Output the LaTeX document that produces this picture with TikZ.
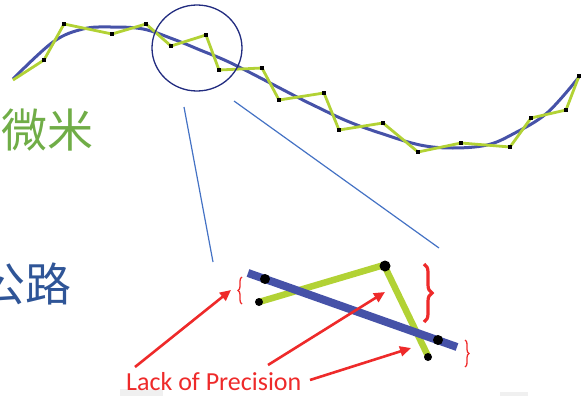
\documentclass[tikz,border=0pt]{standalone}
\usepackage{fontspec}
\setmainfont{Carlito}
\newfontfamily\cjk{Noto Sans CJK SC}
\usetikzlibrary{arrows.meta,decorations.pathreplacing,shapes.geometric}
\definecolor{curveblue}{HTML}{4652A8}
\definecolor{polygreen}{HTML}{B2D235}
\definecolor{circnavy}{HTML}{222C80}
\definecolor{lineblue}{HTML}{4472C4}
\definecolor{arrred}{HTML}{EE2A2A}
\definecolor{cjkgreen}{HTML}{70AD47}
\definecolor{cjkblue}{HTML}{2F5597}
\begin{document}
\begin{tikzpicture}[x=1pt,y=-1pt,
  sq/.style={fill=black,minimum size=4pt,inner sep=0pt},
  bigdot/.style={fill=black,circle,minimum size=8pt,inner sep=0pt},
  redarrow/.style={draw=arrred,line width=2.6pt,-{Triangle[length=11pt,width=10pt]}},
  redbrace/.style={draw=arrred,decorate,decoration={brace,amplitude=#1}}]
\useasboundingbox (0,0) rectangle (588,396);
\clip (0,0) rectangle (588,396);
% faint grey strips
\fill[black!6] (120,389) rectangle (163,396);
\fill[black!6] (500,392) rectangle (528,396);
% texts
\node[text=cjkgreen,font=\cjk\fontsize{46}{46}\selectfont,anchor=west,inner sep=0pt] (wm) at (1,130) {微米};
\node[text=cjkblue,font=\cjk\fontsize{46}{46}\selectfont,anchor=west,inner sep=0pt] (gl) at (-21,284) {公路};
% blue curve
\draw[curveblue,line width=3pt] plot[smooth,tension=0.6] coordinates {(13,79) (53,42) (83,29) (110,27) (143,29) (173,39) (200,50) (233,64) (297,97) (313,105) (347,121) (380,133) (420,145) (453,148) (487,145) (513,134) (547,113) (579,77)};
% green polyline
\coordinate (g0) at (13,80);
\coordinate (g1) at (44,60);
\coordinate (g2) at (64,24);
\coordinate (g3) at (112,34);
\coordinate (g4) at (146,24);
\coordinate (g5) at (171,46);
\coordinate (g6) at (206,35);
\coordinate (g7) at (219,70);
\coordinate (g8) at (262,68);
\coordinate (g9) at (279,100);
\coordinate (g10) at (324,93);
\coordinate (g11) at (339,130);
\coordinate (g12) at (383,123);
\coordinate (g13) at (418,152);
\coordinate (g14) at (461,143);
\coordinate (g15) at (510,147);
\coordinate (g16) at (531,118);
\coordinate (g17) at (566,110);
\coordinate (g18) at (579,76);
\draw[polygreen,line width=2.8pt,line join=round] (g0) -- (g1) -- (g2) -- (g3) -- (g4) -- (g5) -- (g6) -- (g7) -- (g8) -- (g9) -- (g10) -- (g11) -- (g12) -- (g13) -- (g14) -- (g15) -- (g16) -- (g17) -- (g18);
\foreach \i in {1,...,18} \node[sq] (d\i) at (g\i) {};
% circle and zoom lines
\node[draw=circnavy,line width=1.3pt,ellipse,minimum width=90pt,minimum height=86pt,inner sep=0pt] (zc) at (197,48) {};
\coordinate (l1a) at (184,107); \coordinate (l1b) at (213,262);
\coordinate (l2a) at (234,101); \coordinate (l2b) at (439,248);
\draw[lineblue,line width=1.2pt] (l1a) -- (l1b);
\draw[lineblue,line width=1.2pt] (l2a) -- (l2b);
% detail
\coordinate (b1) at (248,273); \coordinate (b2) at (457,347);
\coordinate (p1) at (259,302); \coordinate (p2) at (384,265); \coordinate (p3) at (428,356);
\draw[polygreen,line width=6.5pt,line join=round] (p1) -- (p2) -- (p3);
\draw[curveblue,line width=8pt] (b1) -- (b2);
\node[bigdot,minimum size=10pt] (q1) at (265,279) {};
\node[bigdot] (q2) at (259,302) {};
\node[bigdot,minimum size=11pt] (q3) at (385,266) {};
\node[bigdot,minimum size=10pt] (q4) at (438,340) {};
\node[bigdot] (q5) at (428,357) {};
% braces
\coordinate (br1a) at (242,304); \coordinate (br1b) at (242,277);
\coordinate (br2a) at (424,264); \coordinate (br2b) at (424,322);
\coordinate (br3a) at (465,340); \coordinate (br3b) at (465,367);
\draw[redbrace=4pt,line width=1.3pt] (br1a) -- (br1b);
\draw[redbrace=8pt,line width=3.2pt] (br2a) -- (br2b);
\draw[redbrace=4pt,line width=1.3pt] (br3a) -- (br3b);
% label and arrows
\node[text=arrred,font=\fontsize{26}{26}\selectfont,anchor=base west,inner sep=0pt] (lp) at (126,390) {Lack of Precision};
\coordinate (a1s) at (135,367); \coordinate (a1e) at (231,290);
\coordinate (a2s) at (268,365); \coordinate (a2e) at (385,292);
\coordinate (a3s) at (310,380); \coordinate (a3e) at (411,348);
\draw[redarrow] (a1s) -- (a1e);
\draw[redarrow] (a2s) -- (a2e);
\draw[redarrow] (a3s) -- (a3e);
\end{tikzpicture}
\end{document}
